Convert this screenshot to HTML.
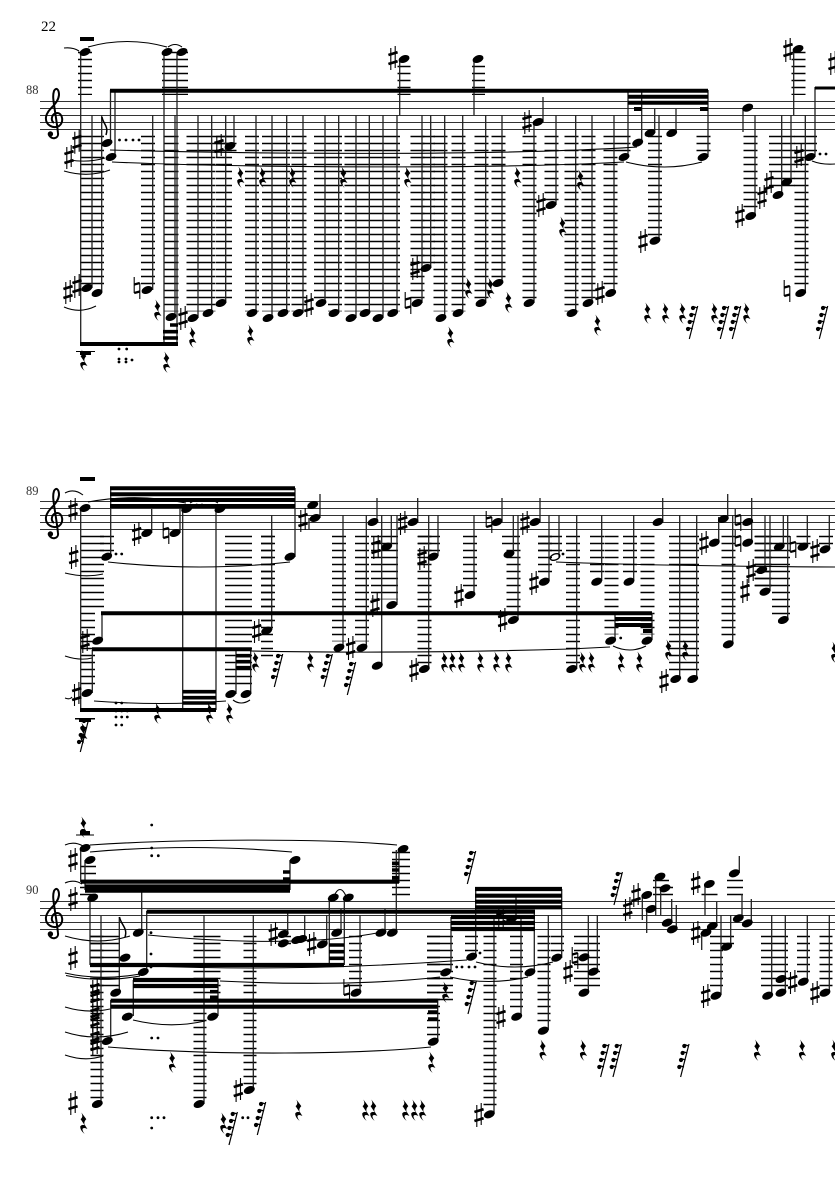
<!DOCTYPE html>
<html><head><meta charset="utf-8"><title>Score</title>
<style>html,body{margin:0;padding:0;background:#fff}svg{display:block}text{font-family:"Liberation Serif",serif}</style></head>
<body>
<svg xmlns="http://www.w3.org/2000/svg" width="835" height="1181" viewBox="0 0 835 1181">
<defs>
<g id="n"><ellipse rx="5.7" ry="3.7" transform="rotate(-22)" fill="#000"/></g>
<g id="s" stroke="#000" fill="none"><path d="M-2.2 -10V12M2.2 -12V10" stroke-width="1.1"/><path d="M-4.6 -3L4.6 -5.8M-4.6 6L4.6 3.2" stroke-width="2.7"/></g>
<g id="h" stroke="#000" fill="none"><path d="M-2.8 -11V5M2.8 -5V11" stroke-width="1.1"/><path d="M-2.8 -3.5L2.8 -5M-2.8 5L2.8 3.5" stroke-width="2.2"/></g>
<path id="r" transform="scale(1.1)" d="M-1.5 -9.5L3 -3.5Q.5 -1 1.5 1.5L4 5.5Q.5 3.5 -.5 5.5Q-.5 7.5 1.5 10Q-3 6.5 -2.5 3Q-1 1 1.5 2L-2.2 -3.5Q.6 -5.5 -1.5 -9.5Z" fill="#000"/>
<g id="t"><path d="M5.7 -16L-2.7 17" stroke="#000" stroke-width="1.2" fill="none"/><circle cx="1" cy="-14" r="2.1"/><circle cx="-.7" cy="-7" r="2.1"/><circle cx="-2.3" cy="0" r="2.1"/><circle cx="-4" cy="7" r="2.1"/><path d="M1 -15.5L5.5 -14M-1 -8.5L4 -7M-2.5 -1.5L2.3 0M-4 5.5L.7 7" stroke="#000" stroke-width="1.2"/></g>
<g id="c"><path d="M-1 -10C-5 -13 -3 -20 2 -20C8 -20 9 -10 4 -7C-2 -4 -10 -8 -9 -16C-8 -24 3 -28 4 -38C4 -44 1 -46 -1 -42C-3 -36 -1 -30 2 -8L3 0C4 6 -4 7 -6 2" fill="none" stroke="#000" stroke-width="2"/><circle cx="-4.6" cy="1" r="2.7"/></g>
</defs>

<text x="41" y="31" font-size="15">22</text>
<text x="26" y="94" font-size="12.5" fill="#333">88</text>
<text x="26" y="495" font-size="12.5" fill="#333">89</text>
<text x="26" y="894" font-size="12.5" fill="#333">90</text>

<!-- staves -->
<path d="M40 101.5H835M40 108.5H835M40 115.5H835M40 122.5H835M40 129.5H835M40 501.5H835M40 508.5H835M40 515.5H835M40 522.5H835M40 529.5H835M40 901.5H835M40 908.5H835M40 915.5H835M40 922.5H835M40 929.5H835" stroke="#333" stroke-width="1" fill="none"/>
<use href="#c" x="55" y="133"/><use href="#c" x="55" y="533"/><use href="#c" x="55" y="933"/>

<!-- ledger blocks -->
<g fill="none" stroke="#000" stroke-dasharray="1.4 5.6" transform="translate(0 .4)">
<path stroke-width="14" d="M85 51.4V94.6M798.5 51.4V94.6M148 135.4V284M252 135.4V311M269 135.4V311M283 135.4V311M321 135.4V298M335 135.4V311M351.5 135.4V311M365 135.4V311M379 135.4V311M393 135.4V311M417.5 135.4V298M440.5 135.4V311M458.5 135.4V311M481.5 135.4V298M498.5 135.4V277M529.5 135.4V298M551.5 135.4V200M571.5 135.4V311M588.5 135.4V298M610.5 135.4V284M655 135.4V235M703.5 135.4V151M750.5 135.4V210M801.5 135.4V287M810 135.4V151"/>
<path stroke-width="26" d="M175 51.4V94.6M782 135.4V186"/>
<path stroke-width="13" d="M404 65.4V94.6M478.5 65.4V94.6M624 135.4V151M428.5 135.4V263"/>
<path stroke-width="24" d="M92 135.4V284"/>
<path stroke-width="15" d="M171 135.4V311M299 135.4V311"/>
<path stroke-width="29" d="M201 135.4V311"/>
<path stroke-width="16" d="M224 135.4V298"/>
<path stroke-width="21" d="M226 135.4V151"/>

<path stroke-width="23" d="M92.5 535.4V607"/>
<path stroke-width="14" d="M107 535.4V551M88 612.4V687M268 535.4V626M339 535.4V641M362 535.4V641M424.5 535.4V663M470 535.4V589M513.5 549.4V614M545 535.4V576M573 535.4V663M597 535.4V576M611.5 535.4V634M630 535.4V576M647.5 535.4V634M728.5 535.4V638M803.5 535.4V544M826 535.4V544"/>
<path stroke-width="27" d="M238.5 535.4V688M384.5 535.4V599"/>
<path stroke-width="12" d="M267 535.4V660"/>
<path stroke-width="22" d="M429 535.4V551"/>
<path stroke-width="18" d="M511 535.4V547M763.5 535.4V586M781 535.4V614"/>
<path stroke-width="24" d="M550 535.4V551"/>
<path stroke-width="30" d="M684 535.4V673"/>
<path stroke-width="17" d="M763.5 535.4V586"/>

<path stroke-width="16" d="M88 865.4V895"/>
<path stroke-width="18" d="M401 851.4V895"/>
<path stroke-width="30" d="M105 935.4V986"/>
<path stroke-width="13" d="M97 935.4V1098M200 935.4V1098M250 935.4V1084M355.5 935.4V986M433.5 935.4V1036M471.5 935.4V951M490 935.4V1108M516.5 935.4V1011M544 935.4V1025M557.5 935.4V951M803.5 935.4V975M826 935.4V986M716.5 935.4V989M727.5 935.4V944"/>
<path stroke-width="14" d="M213.5 935.4V1012"/>
<path stroke-width="26" d="M440 935.4V1002M587 935.4V986"/>
<path stroke-width="27" d="M774.5 935.4V989"/>
<path stroke-width="16" d="M661 879.4V895M665 886.4V895M709.5 893.4V895M735 879.4V895"/>
<path stroke-width="12" d="M285 935.4V945"/>
</g>

<!-- stems -->
<g fill="none" stroke="#222" stroke-width="1.3">
<path d="M80.7 52V344M92 115V288M101.7 115V292M110.5 90V143M115 90V157M152.7 115V290M164 52V344M177 52V344M175 115V317M198 115V318M211.7 115V313M225.7 115V303M234 115V146M256 115V313M272 115V318M286.7 115V313M303 115V313M325 115V303M338.7 115V313M356 115V318M369.3 115V313M383 115V318M397 115V313M399.7 59V115M474 59V115M422 115V303M430.7 115V268M444.7 115V318M462.7 115V313M485.7 115V303M502 115V283M543 97V122M534 122V303M556 115V205M575.7 115V313M592 115V303M614 115V293M628 90V157M641.7 90V143M708 90V157M654.7 109V133M676 109V133M659 115V241M743 108V132M755 115V216M781.7 115V195M791 115V182M793.7 49V115M815 87V157M805.3 115V293"/>
<path d="M80.7 508V711M110.7 488V557M295 488V557M102 613V640M92.3 650V693M151.7 509V533M180 505V533M182.7 509V710M216 509V710M236 649V694M250.7 649V694M271.7 515V630M320 494V518M309 518V530M343 515V647M366.3 515V647M377 498V522M391.3 515V546M397 515V605M381.7 515V665M417.7 498V522M438 515V556M428.7 515V669M474 515V595M502 498V522M513.3 515V554M518 515V620M540 498V522M549 515V581M559 515V557M576.7 515V669M601.7 515V581M615 613V640M633.7 515V581M652 613V640M662.7 498V522M679.7 515V679M696.7 515V679M718.7 517V542M727.7 494V519M732.7 515V644M751.7 498V542M765 515V570M770 515V591M783.3 515V546M787.7 515V620M807.3 515V546M829.3 515V549"/>
<path d="M80.7 848V882M85 860V890M90 898V965M141.7 885V932M146.7 911V972M119.3 917V992M101 916V1104M133.3 980V1016M218 980V1016M110.7 1000V1041M437.7 1000V1041M290 860V890M399 849V883M204 915V1104M253.3 915V1090M287.7 910V934M304.7 915V939M326.7 915V944M329.3 898V965M344.3 898V965M341 909V932M385 909V932M396.3 850V932M360 915V992M475.7 889V957M561.7 889V958M451 917V972M534.3 911V972M516 895V919M494 917V1114M521 915V1016M548.3 915V1030M588.3 915V992M597.3 915V971M642.3 895V920M646.7 909V933M655.7 877V915M660.7 888V915M671.7 899V922M676.3 905V929M705 884V915M701.7 933V950M716.7 902V926M721 915V995M730.7 915V946M739.3 856V873M742 894V918M751.3 899V923M771.7 915V995M785.3 915V992M807.3 915V981M829.3 915V992"/>
</g>

<!-- flags -->
<g fill="none" stroke="#000" stroke-width="1.5">
<path d="M102 117C103 124 109 126 106 135"/>
<path d="M119.5 917C121 925 128 928 125 937"/>
</g>

<!-- beams -->
<g fill="none" stroke="#000" stroke-width="3.6">
<path stroke-width="4" d="M110 90.7H708M80 344H178M628 96.7H708M628 102.7H708M634 109H641.7M700 109H708"/>
<path d="M163 331.7H178M163 338H178M170 325H178"/>
<path stroke-width="4" d="M110 488.3H295M110 494.3H295M110 500H295M110 506H295M101 613.3H652M92 649.3H251.7M80 710H216M615 619H652M615 625H652M643 631H652"/>
<path d="M182.7 691.7H216M182.7 697.7H216M182.7 703H216M236 655.7H250.7M236 661.7H250.7M236 667.7H250.7"/>
<path stroke-width="4.2" d="M81 881.7H399M85 886.5H290M85 890.7H290M90 965H344M146.7 911.7H535M133 980H218M133 986H218M110.7 1000.7H437.7M110.7 1006.7H437.7M475 889H562M475 895.7H562M475 901.7H562M475 907.3H562M451 917H535M451 923H535M451 929H535"/>
<path d="M283 872H290M283 879H290M392 863.3H399M392 870H399M392 877.7H399M210 991.7H218M210 997.3H218M428 1012H437.7M428 1019H437.7M329 945H344M329 951.7H344M329 958.3H344"/>
<path stroke-width="3" d="M815 88H835"/>
</g>

<!-- whole rests -->
<path d="M80 37H94V41H80ZM76 351H95V352H76ZM80 352H91V355H80ZM80 477H95V481H80ZM75 718H95V719.5H75ZM79 719.5H91V722H79ZM76 834.5H94V835.5H76ZM80 831H90V834.5H80Z" fill="#000"/>

<!-- ties -->
<g fill="none" stroke="#000" stroke-width="1.1">
<path d="M64 48Q73 47 79 51M88 47Q127 36 167 47M168 47Q175 42 182 47"/>
<path d="M110 150C250 154 500 156 637 147M112 162C250 168 500 169 624 162M626 162Q665 172 702 162M64 171Q88 178 110 170M70 160Q88 163 105 158M64 307Q80 314 96 306M812 161Q822 165 835 164"/>
<path d="M65 493Q74 488 83 495M88 502Q137 493 186 503M190 503Q204 494 218 503M108 562Q200 572 290 562M65 573Q85 578 103 574M65 656Q80 661 92 658M65 698Q70 700 72 697M94 701Q160 706 226 701M233 700Q241 706 250 700"/>
<path d="M250 651Q400 654 570 649L610 647M613 646Q630 654 646 646M556 562Q660 566 835 567"/>
<path d="M90 845C180 839 320 838 397 845M90 852Q190 843 292 852M65 845Q74 841 83 846M65 883Q74 879 82 884M65 936Q98 946 130 936M148 935C230 943 320 945 382 932M65 973Q100 981 140 974M66 975.5Q100 983 140 976M220 981C300 985 380 984 440 977M150 966Q300 972 467 960M450 977Q489 986 528 977M476 962Q515 972 553 962M65 1007Q88 1014 110 1009M65 1032Q95 1042 128 1032M65 1055Q85 1062 103 1056M108 1047C220 1056 360 1054 431 1047M133 1020Q170 1029 205 1021M334 896Q340 883 346 896"/>
</g>

<!-- dots -->
<g fill="#000">
<circle cx="119.5" cy="140" r="1.4"/><circle cx="126" cy="140" r="1.4"/><circle cx="133" cy="140" r="1.4"/><circle cx="139" cy="140" r="1.4"/>
<circle cx="119" cy="349" r="1.4"/><circle cx="126.7" cy="349" r="1.4"/><circle cx="119" cy="359" r="1.4"/><circle cx="126" cy="359" r="1.4"/><circle cx="132" cy="360" r="1.4"/><circle cx="119" cy="362" r="1.4"/><circle cx="126" cy="362" r="1.4"/>
<circle cx="820" cy="154" r="1.4"/><circle cx="826" cy="154" r="1.4"/>
<circle cx="116" cy="554" r="1.4"/><circle cx="121.7" cy="554" r="1.4"/><circle cx="196.7" cy="505" r="1.4"/><circle cx="202" cy="505" r="1.4"/>
<circle cx="116" cy="703" r="1.4"/><circle cx="121.7" cy="703" r="1.4"/><circle cx="116" cy="711" r="1.4"/><circle cx="121.7" cy="711" r="1.4"/><circle cx="127.3" cy="711" r="1.4"/><circle cx="116" cy="717" r="1.4"/><circle cx="121.7" cy="717" r="1.4"/><circle cx="127.3" cy="717" r="1.4"/><circle cx="116" cy="725" r="1.4"/><circle cx="121.7" cy="725" r="1.4"/>
<circle cx="563" cy="554" r="1.4"/><circle cx="620.7" cy="638" r="1.4"/>
<circle cx="151.7" cy="825" r="1.4"/><circle cx="151.7" cy="848" r="1.4"/><circle cx="151.7" cy="855.7" r="1.4"/><circle cx="158.3" cy="855.7" r="1.4"/>
<circle cx="151" cy="932.7" r="1.4"/><circle cx="151" cy="954" r="1.4"/><circle cx="151" cy="967" r="1.4"/><circle cx="151.7" cy="1038" r="1.4"/><circle cx="158" cy="1038" r="1.4"/>
<circle cx="151.7" cy="1117.7" r="1.4"/><circle cx="158" cy="1117.7" r="1.4"/><circle cx="164" cy="1117.7" r="1.4"/><circle cx="151.7" cy="1128" r="1.4"/><circle cx="242.7" cy="1117.7" r="1.4"/><circle cx="248" cy="1117.7" r="1.4"/>
<circle cx="456.7" cy="967" r="1.4"/><circle cx="462" cy="967" r="1.4"/><circle cx="469" cy="967" r="1.4"/><circle cx="475" cy="967" r="1.4"/><circle cx="480" cy="953" r="1.4"/>
</g>

<!-- noteheads system 1 -->
<use href="#n" x="85" y="52"/><use href="#n" x="87" y="288"/><use href="#n" x="97" y="293"/><use href="#n" x="107" y="143"/><use href="#n" x="111" y="157"/><use href="#n" x="147" y="290"/><use href="#n" x="167" y="52"/><use href="#n" x="182" y="52"/><use href="#n" x="171" y="317"/><use href="#n" x="193" y="318"/><use href="#n" x="208" y="313"/><use href="#n" x="221" y="303"/><use href="#n" x="230" y="146"/><use href="#n" x="252" y="313"/><use href="#n" x="268" y="318"/><use href="#n" x="283" y="313"/><use href="#n" x="298" y="313"/><use href="#n" x="321" y="303"/><use href="#n" x="334" y="313"/><use href="#n" x="351" y="318"/><use href="#n" x="365" y="313"/><use href="#n" x="378" y="318"/><use href="#n" x="392.7" y="313"/><use href="#n" x="404" y="59"/><use href="#n" x="478" y="59"/><use href="#n" x="417" y="303"/><use href="#n" x="426" y="268"/><use href="#n" x="441" y="318"/><use href="#n" x="458" y="313"/><use href="#n" x="481" y="303"/><use href="#n" x="498" y="283"/><use href="#n" x="538" y="122"/><use href="#n" x="529" y="303"/><use href="#n" x="551" y="205"/><use href="#n" x="572" y="313"/><use href="#n" x="588" y="303"/><use href="#n" x="610.7" y="293"/><use href="#n" x="624" y="157"/><use href="#n" x="637.7" y="142.7"/><use href="#n" x="703" y="157"/><use href="#n" x="650" y="133"/><use href="#n" x="671.7" y="133"/><use href="#n" x="655" y="240.7"/><use href="#n" x="747.7" y="107.7"/><use href="#n" x="750.7" y="216"/><use href="#n" x="778" y="195"/><use href="#n" x="786.7" y="182"/><use href="#n" x="798" y="49"/><use href="#n" x="810" y="157"/><use href="#n" x="800.7" y="293"/>
<!-- noteheads system 2 -->
<use href="#n" x="85" y="508"/><use href="#n" x="106.7" y="556.7"/><use href="#n" x="290" y="556.7"/><use href="#n" x="97.7" y="640.7"/><use href="#n" x="87" y="693"/><use href="#n" x="146.7" y="533"/><use href="#n" x="175" y="533"/><use href="#n" x="186.7" y="509"/><use href="#n" x="220" y="509"/><use href="#n" x="230.7" y="694"/><use href="#n" x="246" y="694"/><use href="#n" x="266.7" y="630.7"/><use href="#n" x="315" y="518"/><use href="#n" x="312.7" y="505"/><use href="#n" x="339" y="647.7"/><use href="#n" x="362" y="647.7"/><use href="#n" x="373" y="522"/><use href="#n" x="386.7" y="546.7"/><use href="#n" x="391.7" y="605"/><use href="#n" x="377.3" y="665.7"/><use href="#n" x="413" y="522"/><use href="#n" x="433" y="556.7"/><use href="#n" x="424.3" y="669"/><use href="#n" x="470" y="595"/><use href="#n" x="497" y="522"/><use href="#n" x="509" y="554"/><use href="#n" x="513.3" y="620"/><use href="#n" x="535" y="522"/><use href="#n" x="544.3" y="581.7"/><ellipse cx="555" cy="557" rx="5" ry="3" transform="rotate(-22 555 557)" fill="none" stroke="#000" stroke-width="1.4"/><use href="#n" x="571.7" y="669"/><use href="#n" x="596.7" y="581.7"/><use href="#n" x="610.7" y="640.7"/><use href="#n" x="629" y="581.7"/><use href="#n" x="647" y="640.7"/><use href="#n" x="658" y="522"/><use href="#n" x="675.7" y="679"/><use href="#n" x="692.7" y="679"/><use href="#n" x="714.3" y="542.7"/><use href="#n" x="723.3" y="519"/><use href="#n" x="728.3" y="644.3"/><use href="#n" x="747.7" y="522"/><use href="#n" x="747.7" y="542.7"/><use href="#n" x="761.7" y="570"/><use href="#n" x="765" y="591.7"/><use href="#n" x="779.3" y="546.7"/><use href="#n" x="783.3" y="620"/><use href="#n" x="803" y="546.7"/><use href="#n" x="825" y="549.3"/>
<!-- noteheads system 3 -->
<use href="#n" x="85" y="848"/><use href="#n" x="90" y="860"/><use href="#n" x="92.7" y="897.7"/><use href="#n" x="295" y="860"/><use href="#n" x="403" y="849"/><use href="#n" x="138.3" y="932.7"/><use href="#n" x="125" y="957.7"/><use href="#n" x="115.7" y="992.7"/><use href="#n" x="143.3" y="972"/><use href="#n" x="97.3" y="1104"/><use href="#n" x="127.3" y="1016.7"/><use href="#n" x="212.7" y="1016.7"/><use href="#n" x="107.3" y="1041"/><use href="#n" x="433.3" y="1041.7"/><use href="#n" x="249.3" y="1090"/><use href="#n" x="199" y="1104"/><use href="#n" x="283.3" y="934"/><use href="#n" x="283.3" y="943.3"/><use href="#n" x="296.7" y="940"/><use href="#n" x="301.7" y="939"/><use href="#n" x="322.3" y="944.3"/><use href="#n" x="356" y="992.7"/><use href="#n" x="333.3" y="897.7"/><use href="#n" x="348.3" y="897.7"/><use href="#n" x="336.7" y="932.7"/><use href="#n" x="381" y="932.7"/><use href="#n" x="392.3" y="932.7"/><use href="#n" x="471.7" y="956.7"/><use href="#n" x="556.7" y="957.7"/><use href="#n" x="445.7" y="972.3"/><use href="#n" x="530" y="972.3"/><use href="#n" x="511.7" y="919"/><use href="#n" x="489.3" y="1114.3"/><use href="#n" x="516.7" y="1016.7"/><use href="#n" x="543.3" y="1030.7"/><use href="#n" x="584" y="957.3"/><use href="#n" x="593.3" y="971.7"/><use href="#n" x="584" y="992.7"/><use href="#n" x="646.7" y="895"/><use href="#n" x="651" y="909"/><use href="#n" x="660" y="876.7"/><use href="#n" x="665" y="888.3"/><use href="#n" x="667.3" y="922.7"/><use href="#n" x="672.3" y="929.3"/><use href="#n" x="709.3" y="884"/><use href="#n" x="706" y="932.7"/><use href="#n" x="712.3" y="926"/><use href="#n" x="716" y="995.7"/><use href="#n" x="726.7" y="946.7"/><use href="#n" x="734.3" y="873.3"/><use href="#n" x="738.3" y="918.3"/><use href="#n" x="747.3" y="923.3"/><use href="#n" x="767.7" y="995.7"/><use href="#n" x="781" y="979"/><use href="#n" x="781" y="992.7"/><use href="#n" x="803.3" y="981.7"/><use href="#n" x="825" y="992.7"/>

<!-- sharps -->
<use href="#s" x="68" y="292"/><use href="#s" x="77" y="286"/><use href="#s" x="77" y="141.7"/><use href="#s" x="69" y="157"/><use href="#s" x="183" y="318"/><use href="#s" x="219" y="146"/><use href="#s" x="309" y="305"/><use href="#s" x="393" y="58"/><use href="#s" x="415" y="268"/><use href="#s" x="527" y="122"/><use href="#s" x="541" y="205"/><use href="#s" x="600" y="293"/><use href="#s" x="643" y="241"/><use href="#s" x="740" y="216"/><use href="#s" x="762" y="197"/><use href="#s" x="769" y="183"/><use href="#s" x="788" y="50"/><use href="#s" x="799" y="156"/><use href="#s" x="833" y="63"/>
<use href="#s" x="73" y="510"/><use href="#s" x="73.7" y="557"/><use href="#s" x="85" y="641"/><use href="#s" x="76.7" y="694"/><use href="#s" x="136.7" y="534"/><use href="#s" x="256.7" y="631"/><use href="#s" x="303" y="520"/><use href="#s" x="350.7" y="648"/><use href="#s" x="376" y="547"/><use href="#s" x="375" y="605"/><use href="#s" x="402.7" y="523"/><use href="#s" x="422" y="558"/><use href="#s" x="414" y="670"/><use href="#s" x="459" y="596"/><use href="#s" x="502.7" y="620"/><use href="#s" x="525" y="523"/><use href="#s" x="534" y="583"/><use href="#s" x="664" y="681"/><use href="#s" x="704" y="543"/><use href="#s" x="751" y="571"/><use href="#s" x="745" y="591"/><use href="#s" x="815" y="551"/>
<use href="#s" x="73" y="860"/><use href="#s" x="73" y="899"/><use href="#s" x="73" y="958"/><use href="#s" x="73" y="1103"/><use href="#s" x="95" y="990"/><use href="#s" x="95" y="996"/><use href="#s" x="95" y="1014"/><use href="#s" x="95" y="1020"/><use href="#s" x="95" y="1038"/><use href="#s" x="95" y="1044"/><use href="#s" x="238.3" y="1090"/><use href="#s" x="273.3" y="934"/><use href="#s" x="311.7" y="944"/><use href="#s" x="501" y="918"/><use href="#s" x="479" y="1115"/><use href="#s" x="501" y="1017"/><use href="#s" x="568" y="972"/><use href="#s" x="627.7" y="909"/><use href="#s" x="636" y="895"/><use href="#s" x="695.7" y="883"/><use href="#s" x="695.7" y="933"/><use href="#s" x="705.7" y="996"/><use href="#s" x="792.7" y="982"/><use href="#s" x="815" y="993"/>

<!-- naturals -->
<use href="#h" x="137" y="288"/><use href="#h" x="408" y="303"/><use href="#h" x="787" y="291"/><use href="#h" x="166" y="533"/><use href="#h" x="489" y="522"/><use href="#h" x="738" y="520"/><use href="#h" x="738" y="541"/><use href="#h" x="793" y="547"/><use href="#h" x="346.7" y="990"/><use href="#h" x="575" y="958"/>

<!-- rests -->
<use href="#r" x="157" y="310"/><use href="#r" x="192" y="337"/><use href="#r" x="250" y="335"/><use href="#r" x="83" y="360"/><use href="#r" x="166" y="362"/><use href="#r" x="240" y="177"/><use href="#r" x="262" y="177"/><use href="#r" x="292" y="177"/><use href="#r" x="343" y="177"/><use href="#r" x="407" y="177"/><use href="#r" x="450" y="337"/><use href="#r" x="468" y="288"/><use href="#r" x="490" y="288"/><use href="#r" x="508" y="302"/><use href="#r" x="517" y="177"/><use href="#r" x="562" y="227"/><use href="#r" x="580" y="180"/><use href="#r" x="597" y="325"/><use href="#r" x="647" y="313"/><use href="#r" x="665" y="313"/><use href="#r" x="682" y="313"/><use href="#r" x="714" y="313"/><use href="#r" x="746" y="313"/>
<use href="#r" x="157" y="713"/><use href="#r" x="209" y="713"/><use href="#r" x="229" y="713"/><use href="#r" x="255" y="661.7"/><use href="#r" x="310" y="661.7"/><use href="#r" x="444" y="662"/><use href="#r" x="452" y="662"/><use href="#r" x="461" y="662"/><use href="#r" x="480" y="662"/><use href="#r" x="496" y="662"/><use href="#r" x="508" y="662"/><use href="#r" x="582" y="662"/><use href="#r" x="591" y="662"/><use href="#r" x="620.7" y="662"/><use href="#r" x="639" y="662"/><use href="#r" x="668" y="650"/><use href="#r" x="685" y="650"/><use href="#r" x="834" y="652"/><use href="#r" x="83" y="733"/>
<use href="#r" x="83" y="827"/><use href="#r" x="171.7" y="1062"/><use href="#r" x="83" y="1123"/><use href="#r" x="223" y="1123"/><use href="#r" x="298" y="1110"/><use href="#r" x="365" y="1110"/><use href="#r" x="373" y="1110"/><use href="#r" x="405" y="1110"/><use href="#r" x="414" y="1110"/><use href="#r" x="422" y="1110"/><use href="#r" x="445" y="992"/><use href="#r" x="431" y="1062"/><use href="#r" x="542.3" y="1050"/><use href="#r" x="582.7" y="1050"/><use href="#r" x="756.7" y="1050"/><use href="#r" x="801.7" y="1050"/><use href="#r" x="834" y="1050"/>

<!-- 64th rests -->
<use href="#t" x="692" y="322"/><use href="#t" x="723" y="322"/><use href="#t" x="735" y="322"/><use href="#t" x="822" y="322"/>
<use href="#t" x="277" y="670"/><use href="#t" x="326.7" y="670"/><use href="#t" x="350" y="678"/><use href="#t" x="83" y="735"/>
<use href="#t" x="470" y="867"/><use href="#t" x="470.7" y="997"/><use href="#t" x="616.7" y="888"/><use href="#t" x="231.7" y="1128"/><use href="#t" x="260" y="1118"/><use href="#t" x="603.3" y="1060"/><use href="#t" x="615.7" y="1060"/><use href="#t" x="683.3" y="1060"/>
</svg>
</body></html>
